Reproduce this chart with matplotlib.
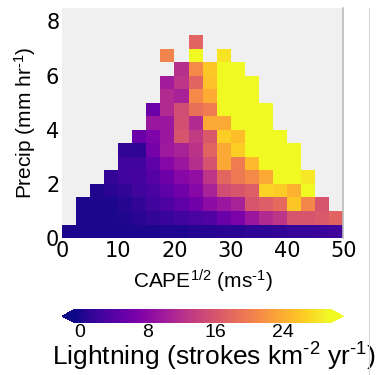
import numpy as np
import matplotlib
matplotlib.use("Agg")
import matplotlib.pyplot as plt

plt.rcParams['mathtext.fontset'] = 'custom'
plt.rcParams['mathtext.rm'] = 'Liberation Sans'
plt.rcParams['mathtext.it'] = 'Liberation Sans:italic'
plt.rcParams['mathtext.bf'] = 'Liberation Sans:bold'

nan = np.nan

# bin edges
cape_edges = np.arange(0, 52.5, 2.5)    # CAPE^1/2 (m/s), 20 bins
precip_edges = np.arange(0, 8.0, 0.5)   # precip (mm/hr), 15 bins

# lightning (strokes km-2 yr-1), one row per precip bin (bottom -> top)
row_00 = [0.0, 0.0, 0.1, 0.1, 0.2, 0.2, 0.2, 0.3, 0.3, 0.6, 0.6, 0.9, 0.9, 1.2, 1.2, 1.5, 1.8, 1.8, 2.1, 2.4]
row_01 = [nan, 0.0, 0.0, 0.0, 0.3, 0.9, 1.5, 1.8, 2.4, 3.0, 3.6, 5.4, 6.6, 9.4, 11.5, 12.7, 16.0, 16.0, 16.3, 17.5]
row_02 = [nan, 0.0, 0.0, 0.0, 0.6, 1.5, 2.4, 3.3, 4.5, 6.0, 8.2, 9.4, 10.6, 16.0, 16.9, 18.1, 26.0, 20.8, 16.0, nan]
row_03 = [nan, nan, 0.3, 0.9, 1.5, 2.4, 3.0, 4.5, 6.0, 7.6, 10.6, 15.1, 16.0, 16.9, 26.9, 26.3, 24.5, 31.0, nan, nan]
row_04 = [nan, nan, nan, 1.5, 2.4, 2.7, 3.9, 5.7, 7.6, 8.5, 12.7, 17.8, 19.6, 21.1, 23.6, 33.0, 34.0, 28.4, nan, nan]
row_05 = [nan, nan, nan, nan, 2.4, 2.4, 4.5, 7.6, 9.4, 11.8, 15.7, 23.6, 19.9, 25.1, 35.0, 36.0, 32.0, nan, nan, nan]
row_06 = [nan, nan, nan, nan, 1.5, 1.2, 6.3, 9.7, 10.6, 12.4, 17.5, 23.6, 26.6, 38.0, 40.0, 37.0, 31.0, nan, nan, nan]
row_07 = [nan, nan, nan, nan, nan, 5.4, 7.0, 9.4, 16.0, 13.3, 16.3, 26.6, 25.4, 39.0, 42.0, 35.0, nan, nan, nan, nan]
row_08 = [nan, nan, nan, nan, nan, nan, 9.4, 9.4, 15.4, 11.5, 23.6, 23.6, 40.0, 44.0, 38.0, nan, nan, nan, nan, nan]
row_09 = [nan, nan, nan, nan, nan, nan, 5.4, 11.5, 15.1, 18.7, 19.9, 38.0, 45.0, 41.0, 33.0, nan, nan, nan, nan, nan]
row_10 = [nan, nan, nan, nan, nan, nan, nan, 11.5, 10.6, 21.1, 23.9, 41.0, 47.0, 39.0, nan, nan, nan, nan, nan, nan]
row_11 = [nan, nan, nan, nan, nan, nan, nan, 10.0, 12.7, 17.5, 25.7, 43.0, 46.0, 37.0, nan, nan, nan, nan, nan, nan]
row_12 = [nan, nan, nan, nan, nan, nan, nan, nan, 12.1, 21.1, 26.0, 40.0, 44.0, nan, nan, nan, nan, nan, nan, nan]
row_13 = [nan, nan, nan, nan, nan, nan, nan, 20.5, nan, 31.0, nan, 28.1, nan, nan, nan, nan, nan, nan, nan, nan]
row_14 = [nan, nan, nan, nan, nan, nan, nan, nan, nan, 17.5, nan, nan, nan, nan, nan, nan, nan, nan, nan, nan]

cbar_ticks = [0, 8, 16, 24]

lightning = np.ma.masked_invalid(np.array([
    row_00, row_01, row_02, row_03, row_04, row_05, row_06, row_07,
    row_08, row_09, row_10, row_11, row_12, row_13, row_14,
]))

fig = plt.figure(figsize=(3.83, 3.75), dpi=100)
ax = fig.add_axes([0.162, 0.365, 0.734, 0.614])
ax.set_facecolor('#f0f0f0')

mesh = ax.pcolormesh(cape_edges, precip_edges, lightning, cmap='plasma',
                     vmin=-0.6, vmax=29.6)

ax.set_xlim(0, 50)
ax.set_ylim(0, 8.5)
ax.set_xticks([0, 10, 20, 30, 40, 50])
ax.set_yticks([0, 2, 4, 6, 8])
ax.tick_params(length=0, labelsize=15, pad=2)
for side in ['left', 'top', 'bottom']:
    ax.spines[side].set_visible(False)
ax.spines['right'].set_color('#bbbbbb')
ax.spines['right'].set_linewidth(1.2)

hy = '\u2010'  # short hyphen in the superscripts, like the original
ax.set_xlabel('CAPE$^{1/2}$ (ms$^{' + hy + '1}$)', fontsize=15,
              family='Liberation Sans', labelpad=5)
ax.set_ylabel('Precip (mm hr$^{' + hy + '1}$)', fontsize=15,
              family='Liberation Sans', labelpad=6)

# colorbar underneath
cax = fig.add_axes([0.162, 0.139, 0.734, 0.036])
cb = fig.colorbar(mesh, cax=cax, orientation='horizontal', extend='both',
                  ticks=cbar_ticks)
cb.outline.set_visible(False)
cb.ax.tick_params(length=0, labelsize=14, pad=1)
for t in cb.ax.get_xticklabels():
    t.set_family('Liberation Sans')
cb.set_label('Lightning (strokes km$^{' + hy + '2}$ yr$^{' + hy + '1}$)',
             fontsize=19, family='Liberation Sans', labelpad=0)
cb.ax.xaxis.label.set_x(0.545)

# panel separator line on the right
fig.add_artist(plt.Line2D([0.963, 0.963], [0.0, 0.979], color='#d9d9d9',
                          linewidth=0.8, transform=fig.transFigure))

fig.savefig('out.png', dpi=100)
